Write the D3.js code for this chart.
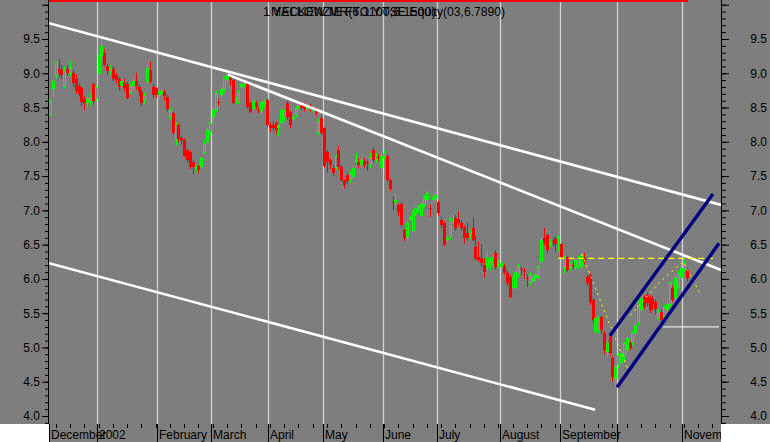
<!DOCTYPE html>
<html>
<head>
<meta charset="utf-8">
<script src="https://cdnjs.cloudflare.com/ajax/libs/d3/7.8.5/d3.min.js"></script>
<style>
body{margin:0;background:#fff;}
text{font-family:"Liberation Sans",Arial,sans-serif;}
</style>
</head>
<body>
<div id="canvas"></div>
<script>
// daily bars, Dec 2001 - Nov 2002
var open = [8.40,8.77,8.95,9.06,9.05,8.80,9.06,9.00,9.00,8.92,
8.82,8.78,8.62,8.56,8.58,8.85,8.62,9.00,9.25,9.30,
9.10,9.02,9.06,8.98,8.92,8.80,8.86,8.85,8.72,8.80,
8.88,8.80,8.72,8.60,8.88,9.05,8.80,8.78,8.68,8.70,
8.72,8.66,8.36,8.42,8.03,8.25,8.05,8.03,7.88,7.85,
7.70,7.60,7.64,7.63,7.84,8.00,8.13,8.36,8.46,8.58,
8.68,8.75,8.90,8.96,8.90,8.60,8.57,8.80,8.83,8.87,
8.57,8.49,8.56,8.47,8.45,8.55,8.61,8.24,8.25,8.27,
8.20,8.27,8.35,8.57,8.43,8.34,8.39,8.51,8.57,8.54,
8.48,8.53,8.46,8.46,8.14,8.35,8.20,7.85,7.73,7.62,
7.63,7.88,7.63,7.44,7.52,7.45,7.49,7.72,7.70,7.66,
7.72,7.70,7.66,7.88,7.74,7.78,7.62,7.78,7.80,7.44,
7.12,7.10,7.08,7.10,6.71,6.61,6.87,6.71,6.95,6.98,
6.93,7.08,7.15,7.04,7.15,7.18,7.12,6.86,6.82,6.57,
6.61,6.84,6.89,6.88,6.82,6.76,6.67,6.63,6.74,6.47,
6.32,6.30,6.20,6.16,6.20,6.20,6.38,6.20,6.17,6.19,
6.09,6.03,5.87,5.87,6.06,6.15,6.12,6.02,5.94,5.98,
6.00,6.03,6.25,6.60,6.64,6.50,6.55,6.58,6.59,6.51,
6.16,6.32,6.16,6.20,6.17,6.16,6.17,6.32,6.03,6.06,
5.69,5.23,5.25,5.44,5.21,4.93,5.15,4.85,4.53,4.74,
4.78,4.85,4.96,5.06,5.06,5.21,5.36,5.55,5.73,5.76,
5.72,5.70,5.66,5.43,5.52,5.44,5.55,5.62,5.87,5.72,
5.87,6.01,6.13,6.13];
var close = [8.60,8.88,9.16,9.00,8.98,9.05,9.00,9.08,8.85,8.75,
8.70,8.58,8.56,8.62,8.66,8.60,8.80,9.27,9.40,9.12,
9.02,9.08,8.92,8.90,8.80,8.88,8.78,8.65,8.82,8.88,
8.80,8.72,8.56,8.68,9.08,8.88,8.68,8.68,8.74,8.74,
8.66,8.48,8.46,8.13,8.26,8.05,8.02,7.80,7.73,7.63,
7.62,7.64,7.58,7.76,7.98,8.17,8.27,8.46,8.71,8.56,
8.77,8.93,8.97,8.90,8.57,8.63,8.73,8.84,8.88,8.50,
8.44,8.60,8.50,8.45,8.58,8.60,8.24,8.20,8.20,8.17,
8.24,8.46,8.45,8.36,8.24,8.36,8.49,8.57,8.50,8.48,
8.54,8.47,8.50,8.41,8.31,8.13,7.65,7.70,7.65,7.55,
7.80,7.63,7.44,7.37,7.43,7.55,7.62,7.74,7.65,7.73,
7.66,7.68,7.78,7.73,7.80,7.76,7.80,7.84,7.45,7.31,
7.10,7.15,6.98,6.79,6.60,6.82,6.89,6.98,7.04,7.06,
7.10,7.18,7.25,7.02,7.20,7.23,6.96,6.79,6.50,6.60,
6.86,6.88,6.74,6.82,6.74,6.60,6.60,6.68,6.57,6.30,
6.28,6.23,6.10,6.32,6.26,6.32,6.17,6.25,6.23,6.09,
5.94,5.74,6.03,6.10,6.19,6.13,6.10,6.00,6.06,6.02,
6.05,6.17,6.57,6.52,6.42,6.54,6.53,6.50,6.62,6.32,
6.32,6.13,6.23,6.17,6.28,6.30,6.35,6.25,5.94,5.66,
5.40,5.43,5.40,5.25,4.96,5.06,4.92,4.57,4.71,4.89,
4.92,5.06,5.14,4.99,5.21,5.33,5.66,5.72,5.59,5.65,
5.55,5.62,5.56,5.52,5.40,5.59,5.64,5.94,5.69,6.01,
6.09,6.16,6.23,6.01];
var high = [8.62,8.91,9.18,9.20,9.12,9.10,9.12,9.18,9.05,8.98,
8.85,8.80,8.66,8.66,8.70,8.86,8.82,9.30,9.52,9.35,
9.14,9.12,9.10,9.00,8.95,8.92,8.92,8.88,8.86,8.92,
9.00,8.84,8.76,8.72,9.12,9.17,8.84,8.80,8.76,8.78,
8.76,8.68,8.50,8.44,8.28,8.27,8.08,8.05,7.90,7.87,
7.74,7.66,7.66,7.78,8.02,8.20,8.30,8.50,8.74,8.62,
8.80,8.95,9.00,8.98,8.92,8.66,8.75,8.86,8.90,8.89,
8.59,8.63,8.60,8.50,8.60,8.62,8.63,8.28,8.30,8.30,
8.26,8.50,8.48,8.60,8.45,8.40,8.52,8.59,8.58,8.57,
8.56,8.55,8.52,8.50,8.34,8.38,8.22,7.88,7.76,7.66,
7.82,7.94,7.66,7.46,7.55,7.58,7.64,7.84,7.76,7.76,
7.76,7.74,7.84,7.92,7.84,7.82,7.84,7.88,7.82,7.46,
7.20,7.25,7.10,7.12,6.73,6.84,6.92,7.00,7.06,7.08,
7.12,7.22,7.29,7.08,7.24,7.27,7.14,6.90,6.84,6.63,
6.90,6.92,6.93,6.98,6.85,6.78,6.82,6.72,6.90,6.62,
6.55,6.50,6.30,6.42,6.30,6.34,6.42,6.28,6.26,6.22,
6.12,6.05,6.05,6.12,6.22,6.18,6.16,6.06,6.10,6.05,
6.08,6.20,6.60,6.74,6.66,6.58,6.60,6.62,6.64,6.53,
6.34,6.34,6.26,6.24,6.30,6.33,6.38,6.38,6.06,6.08,
5.72,5.46,5.46,5.46,5.24,5.10,5.17,4.88,4.74,4.92,
4.95,5.08,5.16,5.10,5.24,5.36,5.68,5.74,5.76,5.80,
5.76,5.74,5.70,5.56,5.56,5.62,5.66,5.96,5.90,6.04,
6.12,6.20,6.28,6.16];
var low = [8.38,8.63,8.93,8.95,8.92,8.78,8.96,8.95,8.80,8.70,
8.66,8.52,8.46,8.50,8.52,8.56,8.60,8.98,9.20,9.10,
8.98,8.98,8.88,8.86,8.75,8.78,8.74,8.62,8.70,8.76,
8.76,8.66,8.52,8.56,8.86,8.85,8.64,8.64,8.62,8.66,
8.60,8.44,8.32,8.10,7.95,8.00,7.96,7.78,7.70,7.60,
7.52,7.55,7.54,7.60,7.82,7.98,8.10,8.30,8.44,8.52,
8.64,8.72,8.88,8.82,8.55,8.56,8.55,8.78,8.80,8.48,
8.42,8.46,8.47,8.42,8.40,8.50,8.22,8.14,8.16,8.12,
8.08,8.25,8.30,8.32,8.20,8.28,8.36,8.48,8.46,8.44,
8.45,8.44,8.42,8.38,8.10,8.10,7.62,7.55,7.60,7.50,
7.60,7.60,7.42,7.32,7.38,7.40,7.46,7.68,7.62,7.62,
7.62,7.58,7.62,7.70,7.70,7.72,7.58,7.74,7.42,7.28,
7.00,7.06,6.92,6.76,6.55,6.58,6.85,6.68,6.92,6.95,
6.90,7.05,7.12,6.90,7.12,7.15,6.92,6.74,6.48,6.55,
6.58,6.80,6.70,6.78,6.70,6.52,6.56,6.58,6.55,6.28,
6.25,6.18,6.02,6.12,6.12,6.16,6.14,6.16,6.14,6.06,
5.90,5.72,5.84,5.85,6.02,6.05,6.00,5.88,5.90,5.94,
5.96,6.00,6.22,6.48,6.38,6.46,6.48,6.40,6.40,6.30,
6.08,6.10,6.12,6.14,6.14,6.14,6.15,6.22,5.90,5.62,
5.36,5.20,5.20,5.20,4.90,4.86,4.88,4.50,4.42,4.70,
4.74,4.82,4.94,4.96,5.02,5.18,5.33,5.52,5.56,5.60,
5.50,5.55,5.48,5.40,5.36,5.40,5.50,5.60,5.66,5.70,
5.85,5.98,6.10,5.96];

// month labels and the bar index where each month starts
var monthNames = ['December','2002','February','March','April','May','June','July','August','September','','November'];
var monthStarts = [0,17,38,57,77,96,117,136,158,179,199,222];

var yMajor = [4.0,4.5,5.0,5.5,6.0,6.5,7.0,7.5,8.0,8.5,9.0,9.5];

// drawn studies, [bar index, price]
var upperTrend = [[-0.35,9.73],[235,7.08]];
var innerTrend = [[62.3,8.98],[235,6.13]];
var lowerTrend = [[-0.35,6.23],[190.9,4.09]];
var channelTop = [[196.1,5.17],[232.2,7.24]];
var channelBottom = [[198.6,4.42],[234.3,6.52]];
var resistanceLevel = [[178,6.30],[232.2,6.30]];
var supportLevel = [[214.7,5.30],[234.3,5.30]];
var zigzagDown = [[186.3,6.36],[196.8,5.26],[202.8,4.64]];
var zigzagUp = [[203.2,5.47],[213.7,5.96],[221.7,6.25],[227.7,5.79]];

var m = {t:0,r:49,b:18,l:49};
var outerWidth = 770, outerHeight = 442;
var w = outerWidth - m.l - m.r,
    h = outerHeight - m.t - m.b;

var svg = d3.select('#canvas').append('svg')
    .attr('width',outerWidth)
    .attr('height',outerHeight);

var defs = svg.append('defs');
var pat = defs.append('pattern').attr('id','dots')
    .attr('width',4).attr('height',4)
    .attr('patternUnits','userSpaceOnUse');
pat.append('rect').attr('width',4).attr('height',4).attr('fill','#808080');
pat.append('rect').attr('x',0).attr('y',0).attr('width',1).attr('height',1).attr('fill','#6e6e6e');
pat.append('rect').attr('x',2).attr('y',2).attr('width',1).attr('height',1).attr('fill','#6e6e6e');
defs.append('clipPath').attr('id','clip').append('rect').attr('width',w).attr('height',h);
defs.append('clipPath').attr('id','clipBand').append('rect').attr('width',w).attr('height',m.b);

// grey panels
svg.append('rect').attr('width',outerWidth).attr('height',h).attr('fill','url(#dots)');
svg.append('rect').attr('x',m.l).attr('y',h).attr('width',w).attr('height',m.b).attr('fill','url(#dots)');

var plot = svg.append('g')
    .attr('transform','translate(' + m.l + ',' + m.t + ')');

var scaleX = d3.scaleLinear().domain([-0.35,235]).range([0,w]);
var scaleY = d3.scaleLinear().domain([4,9.5]).range([416,39]);

// month grid
plot.selectAll('.grid')
    .data(monthStarts.slice(1))
    .enter()
    .append('line')
    .attr('class','grid')
    .attr('x1',function(d){ return Math.round(scaleX(d-0.5)) + 0.5; })
    .attr('x2',function(d){ return Math.round(scaleX(d-0.5)) + 0.5; })
    .attr('y1',0).attr('y2',h)
    .style('stroke','#d2d2d2').style('stroke-width',1.3);

// candles
var days = d3.range(close.length);
var bars = plot.append('g').attr('clip-path','url(#clip)')
    .selectAll('g')
    .data(days)
    .enter()
    .append('g');

function cx(i){ return Math.round(scaleX(i)); }
function col(i){ return close[i] >= open[i] ? '#00ff00' : '#ff0000'; }

bars.append('line')
    .attr('x1',function(i){ return cx(i) + 0.5; })
    .attr('x2',function(i){ return cx(i) + 0.5; })
    .attr('y1',function(i){ return scaleY(high[i]); })
    .attr('y2',function(i){ return scaleY(low[i]); })
    .style('stroke',col).style('stroke-width',1);

bars.append('rect')
    .attr('x',function(i){ return close[i] >= open[i] ? cx(i) - 0.5 : cx(i) - 1; })
    .attr('width',function(i){ return close[i] >= open[i] ? 2 : 3; })
    .attr('y',function(i){
        var t = Math.round(scaleY(Math.max(open[i],close[i])));
        return close[i] >= open[i] ? t + 0.5 : t; })
    .attr('height',function(i){
        var bh = Math.abs(scaleY(open[i]) - scaleY(close[i]));
        return close[i] >= open[i] ? Math.max(Math.round(bh) - 1, 1) : Math.max(Math.round(bh), 1); })
    .style('fill',function(i){
        var bh = Math.abs(scaleY(open[i]) - scaleY(close[i]));
        if (close[i] < open[i]) return '#ff0000';
        return bh > 3 ? 'url(#dots)' : '#00ff00'; })
    .style('stroke',function(i){ return close[i] >= open[i] ? '#00ff00' : 'none'; })
    .style('stroke-width',1);

// studies
var line = d3.line()
    .x(function(d){ return scaleX(d[0]); })
    .y(function(d){ return scaleY(d[1]); });

var studies = plot.append('g').attr('clip-path','url(#clip)');
[upperTrend, innerTrend, lowerTrend].forEach(function(s){
    studies.append('path').attr('d',line(s))
        .style('fill','none').style('stroke','#ffffff').style('stroke-width',2.6);
});
studies.append('path').attr('d',line(supportLevel))
    .style('fill','none').style('stroke','#ffffff').style('stroke-width',1);
studies.append('path').attr('d',line(resistanceLevel))
    .style('fill','none').style('stroke','#ffff00').style('stroke-width',1.3)
    .style('stroke-dasharray','6,4');
[zigzagDown, zigzagUp].forEach(function(s){
    studies.append('path').attr('d',line(s))
        .style('fill','none').style('stroke','#ffff00').style('stroke-width',1)
        .style('stroke-dasharray','2,4');
});
[channelTop, channelBottom].forEach(function(s){
    studies.append('path').attr('d',line(s))
        .style('fill','none').style('stroke','#000080').style('stroke-width',3.4);
});

// top marker
plot.append('line')
    .attr('x1',0).attr('x2',scaleX(close.length - 0.5))
    .attr('y1',1).attr('y2',1)
    .style('stroke','#ff0000').style('stroke-width',2);

// y axes
var yMinor = d3.range(39,101).map(function(d){ return d/10; });
var fmt = d3.format('.1f');

function styleAxis(g){
    g.select('.domain').remove();
    g.selectAll('line').style('stroke','#000');
    g.selectAll('text').style('font-size','12px').style('fill','#000')
        .style('font-family','"Liberation Sans",Arial,sans-serif');
}

var axisLeftMinor = plot.append('g')
    .call(d3.axisLeft(scaleY).tickValues(yMinor).tickSize(4).tickFormat(''));
styleAxis(axisLeftMinor);
var axisLeftMajor = plot.append('g')
    .call(d3.axisLeft(scaleY).tickValues(yMajor.concat([10])).tickSize(7).tickPadding(2)
        .tickFormat(function(d){ return d < 10 ? fmt(d) : ''; }));
styleAxis(axisLeftMajor);

var axisRightMinor = plot.append('g').attr('transform','translate(' + w + ',0)')
    .call(d3.axisRight(scaleY).tickValues(yMinor).tickSize(5).tickFormat(''));
styleAxis(axisRightMinor);
var axisRightMajor = plot.append('g').attr('transform','translate(' + w + ',0)')
    .call(d3.axisRight(scaleY).tickValues(yMajor.concat([10])).tickSize(8)
        .tickFormat(function(d){ return d < 10 ? fmt(d) : ''; }));
styleAxis(axisRightMajor);
axisRightMajor.selectAll('text').attr('x',46).attr('text-anchor','end');

plot.append('line').attr('x1',-0.5).attr('x2',-0.5).attr('y1',0).attr('y2',h)
    .style('stroke','#000');
plot.append('line').attr('x1',w+0.5).attr('x2',w+0.5).attr('y1',0).attr('y2',h)
    .style('stroke','#000');

// x axis band
var band = plot.append('g')
    .attr('transform','translate(0,' + h + ')')
    .attr('clip-path','url(#clipBand)');

band.selectAll('.wk')
    .data(d3.range(2,235,5))
    .enter()
    .append('line')
    .attr('x1',function(d){ return Math.round(scaleX(d)) + 0.5; })
    .attr('x2',function(d){ return Math.round(scaleX(d)) + 0.5; })
    .attr('y1',0).attr('y2',4)
    .style('stroke','#000');

band.selectAll('.mline')
    .data(monthStarts)
    .enter()
    .append('line')
    .attr('x1',function(d){ return Math.max(Math.round(scaleX(d-0.5)),0) + 0.5; })
    .attr('x2',function(d){ return Math.max(Math.round(scaleX(d-0.5)),0) + 0.5; })
    .attr('y1',0).attr('y2',m.b)
    .style('stroke','#000');

band.selectAll('.mlabel')
    .data(monthStarts)
    .enter()
    .append('text')
    .attr('x',function(d){ return Math.max(Math.round(scaleX(d-0.5)),0) + 2; })
    .attr('y',15)
    .style('font-size','12px')
    .style('fill','#000')
    .text(function(d,i){ return monthNames[i]; });

// title
svg.append('text').attr('x',263).attr('y',16)
    .style('font-size','12.5px').style('fill','#000')
    .text('1 YELLOW MR(6.1100,6.1500)');
svg.append('text').attr('x',271).attr('y',16)
    .attr('textLength',234).attr('lengthAdjust','spacingAndGlyphs')
    .style('font-size','12.5px').style('fill','#000')
    .text('MACKENZIE FTO.Y.TSE Equity(03,6.7890)');
</script>
</body>
</html>
